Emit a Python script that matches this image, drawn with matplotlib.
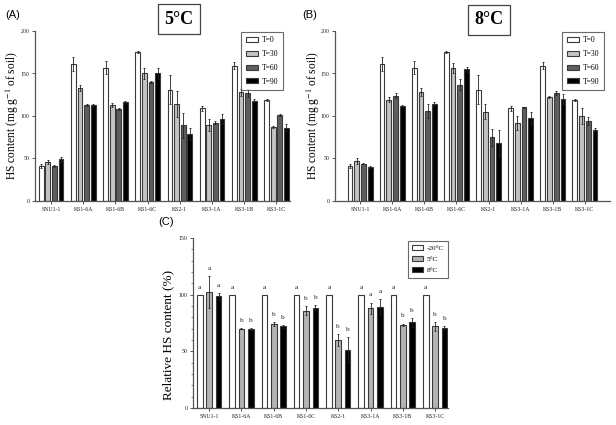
import matplotlib
matplotlib.use("Agg")
import matplotlib.pyplot as plt
import numpy as np
from matplotlib.patches import Patch

plt.rcParams['font.family'] = ['Liberation Serif', 'DejaVu Serif']
plt.rcParams['mathtext.fontset'] = 'stix'

strains = ["SNU1-1", "KS1-6A", "KS1-6B", "KS1-6C", "KS2-1", "KS3-1A", "KS3-1B", "KS3-1C"]
times = ["T=0", "T=30", "T=60", "T=90"]

# Panel A (5 C)
a_t0 = [41, 161, 157, 175, 131, 109, 159, 119]
a_t30 = [46, 133, 113, 150, 114, 89, 128, 87]
a_t60 = [41, 113, 108, 140, 89, 92, 127, 101]
a_t90 = [49, 113, 116, 150, 79, 96, 118, 86]
a_e0 = [2, 8, 8, 1, 17, 3, 4, 1]
a_e30 = [2, 4, 2, 6, 15, 7, 4, 1]
a_e60 = [1, 1, 1, 1, 15, 2, 5, 1]
a_e90 = [3, 1, 2, 7, 7, 6, 2, 4]

# Panel B (8 C)
b_t0 = [41, 161, 157, 175, 131, 109, 159, 119]
b_t30 = [47, 119, 128, 156, 105, 92, 122, 100]
b_t60 = [44, 124, 106, 137, 75, 110, 127, 94]
b_t90 = [40, 112, 114, 155, 68, 98, 120, 84]
b_e0 = [2, 8, 8, 1, 17, 3, 4, 1]
b_e30 = [3, 3, 5, 6, 9, 8, 1, 9]
b_e60 = [1, 3, 8, 6, 10, 1, 2, 5]
b_e90 = [1, 1, 2, 3, 15, 7, 6, 2]

# Panel C (relative)
temps = ["-20\u00b0C", "5\u00b0C", "8\u00b0C"]
c_m20 = [100, 100, 100, 100, 100, 100, 100, 100]
c_5 = [102.5, 70, 74, 86, 60, 88, 73.5, 72]
c_8 = [98.5, 69.5, 72, 88.5, 51.5, 89.5, 75.5, 70.5]
c_e5 = [14, 0.5, 2, 4, 5, 5, 1, 4]
c_e8 = [3, 1, 1, 2, 11, 7, 4, 2]
c_l20 = ["a"] * 8
c_l5 = ["a", "b", "b", "b", "b", "a", "b", "b"]
c_l8 = ["a", "b", "b", "b", "b", "a", "b", "b"]

W, H = 616, 425
fig = plt.figure(figsize=(W / 100, H / 100), dpi=100)

four_colors = ["#ffffff", "#c4c4c4", "#5e5e5e", "#000000"]
three_colors = ["#ffffff", "#b4b4b4", "#000000"]
edge = "#3a3a3a"
spine_c = "#555555"


def style_axes(ax, labels):
    for s in ["top", "right"]:
        ax.spines[s].set_visible(False)
    for s in ["left", "bottom"]:
        ax.spines[s].set_color(spine_c)
        ax.spines[s].set_linewidth(0.9)
    ax.set_xticks(np.arange(len(labels)))
    ax.set_xticklabels(labels, fontsize=4.2)
    ax.tick_params(axis='both', colors=spine_c, labelcolor="#222222", length=2.5, width=0.7, pad=1.5)
    ax.tick_params(axis='y', labelsize=4.2)


def panel_four(ax, series, errs, xlim, step):
    x = np.arange(len(strains))
    w = 0.15
    for i, (vals, er) in enumerate(zip(series, errs)):
        pos = x + (i - 1.5) * step
        ax.bar(pos, vals, width=w, color=four_colors[i], edgecolor=edge, linewidth=0.8,
               label=times[i], zorder=2)
        ax.errorbar(pos, vals, yerr=er, fmt='none', ecolor="#222222", elinewidth=0.6,
                    capsize=1.0, capthick=0.6, zorder=3)
    ax.set_ylim(0, 200)
    ax.set_yticks([0, 50, 100, 150, 200])
    ax.set_xlim(*xlim)
    style_axes(ax, strains)


axA = fig.add_axes([35 / W, 1 - 201 / H, 255 / W, 170 / H])
panel_four(axA, [a_t0, a_t30, a_t60, a_t90], [a_e0, a_e30, a_e60, a_e90], (-0.5, 7.42), 0.205)
axB = fig.add_axes([335 / W, 1 - 201 / H, 275 / W, 170 / H])
panel_four(axB, [b_t0, b_t30, b_t60, b_t90], [b_e0, b_e30, b_e60, b_e90], (-0.78, 7.78), 0.21)

for ax, anchor in [(axA, (287 / W, 1 - 28 / H)), (axB, (608 / W, 1 - 28 / H))]:
    handles = [Patch(facecolor=four_colors[i], edgecolor=edge, linewidth=0.8, label=times[i]) for i in range(4)]
    leg = fig.legend(handles=handles, loc='upper right', bbox_to_anchor=anchor,
                     fontsize=5.5, frameon=True, fancybox=False, handlelength=1.5,
                     handleheight=0.6, labelspacing=0.75, borderpad=0.6, handletextpad=0.6)
    leg.get_frame().set_edgecolor("#444444")
    leg.get_frame().set_linewidth(0.8)

# Panel C
axC = fig.add_axes([193 / W, 17 / H, 255 / W, 170 / H])
x = np.arange(len(strains))
w = 0.175
step = 0.29
cser = [c_m20, c_5, c_8]
cerr = [[0] * 8, c_e5, c_e8]
clet = [c_l20, c_l5, c_l8]
for i in range(3):
    pos = x + (i - 1) * step
    axC.bar(pos, cser[i], width=w, color=three_colors[i], edgecolor=edge, linewidth=0.8, zorder=2)
    if i > 0:
        axC.errorbar(pos, cser[i], yerr=cerr[i], fmt='none', ecolor="#222222", elinewidth=0.6,
                     capsize=1.0, capthick=0.6, zorder=3)
    for p, v, e, l in zip(pos, cser[i], cerr[i], clet[i]):
        axC.text(p, v + e + 4.5, l, ha='center', va='bottom', fontsize=5.2, color="#222222")
axC.set_ylim(0, 150)
axC.set_yticks([0, 50, 100, 150])
axC.set_yticks(np.arange(0, 151, 10), minor=True)
axC.set_xlim(-0.5, 7.4)
style_axes(axC, strains)
axC.tick_params(axis='y', which='minor', length=1.5, width=0.5, colors=spine_c)
handles = [Patch(facecolor=three_colors[i], edgecolor=edge, linewidth=0.8, label=temps[i]) for i in range(3)]
leg = fig.legend(handles=handles, loc='upper right', bbox_to_anchor=(452 / W, 1 - 237 / H),
                 fontsize=5.2, frameon=True, fancybox=False, handlelength=1.5,
                 handleheight=0.6, labelspacing=0.75, borderpad=0.6, handletextpad=0.5)
leg.get_frame().set_edgecolor("#444444")
leg.get_frame().set_linewidth(0.8)

# Titles in boxes
for cx, cy, t in [(179, 19, "5\u00b0C"), (489, 20, "8\u00b0C")]:
    fig.text(cx / W, 1 - cy / H, t, ha='center', va='center', fontsize=13, fontweight='bold',
             bbox=dict(boxstyle='square,pad=0.35', facecolor='white', edgecolor='#444444', linewidth=0.9))

# Y labels
ylab = "HS content (mg g$^{-1}$ of soil)"
fig.text(12 / W, 1 - 116 / H, ylab, rotation=90, ha='center', va='center', fontsize=8.3)
fig.text(313 / W, 1 - 116 / H, ylab, rotation=90, ha='center', va='center', fontsize=8.3)
fig.text(168 / W, 1 - 335 / H, "Relative HS content (%)", rotation=90, ha='center', va='center', fontsize=9.5)

# Panel labels
for px, py, t in [(5, 15, "(A)"), (302, 15, "(B)"), (158, 222, "(C)")]:
    fig.text(px / W, 1 - py / H, t, ha='left', va='center', fontsize=8,
             family=['Liberation Sans', 'DejaVu Sans'])

fig.savefig("out.png", dpi=100)
